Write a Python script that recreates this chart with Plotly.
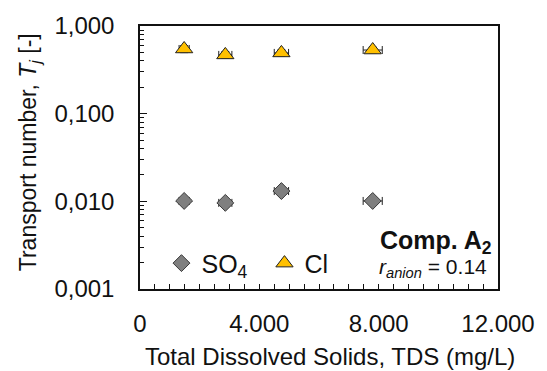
import plotly.graph_objects as go

# Transport numbers of sulfate and chloride vs. total dissolved solids
tds = [1480, 2860, 4740, 7800]          # mg/L
tds_err = [170, 220, 240, 320]          # mg/L
so4 = [0.0101, 0.0096, 0.0131, 0.0101]
cl = [0.547, 0.468, 0.493, 0.532]
cl_err = [0.05, 0.04, 0.04, 0.04]

y_tickvals = [0.001, 0.01, 0.1, 1]
y_ticktext = ["0,001", "0,010", "0,100", "1,000"]
x_tickvals = [0, 4000, 8000, 12000]
x_ticktext = ["0", "4.000", "8.000", "12.000"]

FONT = "Liberation Sans, Arial, Helvetica, sans-serif"

fig = go.Figure()
fig.add_trace(go.Scatter(
    x=tds, y=so4, mode="markers", name="SO<sub>4</sub>",
    marker=dict(symbol="diamond", size=13, color="#7f7f7f",
                line=dict(color="#3a3a3a", width=1)),
    error_x=dict(type="data", array=tds_err, color="#222", thickness=1, width=4),
))
fig.add_trace(go.Scatter(
    x=tds, y=cl, mode="markers", name="Cl",
    marker=dict(symbol="triangle-up", size=15, color="#ffc000",
                line=dict(color="#222", width=1)),
    error_x=dict(type="data", array=tds_err, color="#222", thickness=1, width=4),
    error_y=dict(type="data", array=cl_err, color="#222", thickness=1, width=4),
))

fig.update_layout(
    width=547, height=371,
    margin=dict(l=140, r=42, t=23, b=82),
    paper_bgcolor="white", plot_bgcolor="white",
    font=dict(family=FONT, size=24, color="#111"),
    showlegend=True,
    legend=dict(orientation="h", x=0.06, y=0.01, xanchor="left", yanchor="bottom",
                bgcolor="rgba(0,0,0,0)", font=dict(size=25), itemwidth=30,
                entrywidth=58, entrywidthmode="pixels", tracegroupgap=0),
)

fig.update_xaxes(
    range=[0, 12000], tickmode="array", tickvals=x_tickvals, ticktext=x_ticktext,
    ticks="inside", ticklen=5, tickcolor="#111", tickwidth=1,
    minor=dict(ticks="inside", ticklen=5, dtick=500, tickcolor="#111", showgrid=False),
    showline=True, linecolor="#111", linewidth=1.5, mirror=True,
    showgrid=False, zeroline=False, ticklabelstandoff=12,
)
fig.update_yaxes(
    type="log", range=[-3, 0], tickmode="array", tickvals=y_tickvals, ticktext=y_ticktext,
    ticks="inside", ticklen=7, tickcolor="#111", tickwidth=1,
    minor=dict(ticks="inside", ticklen=4, dtick="D1", tickcolor="#111", showgrid=False),
    showline=True, linecolor="#111", linewidth=1.5, mirror=True,
    showgrid=False, zeroline=False, ticklabelstandoff=19,
)

fig.add_annotation(
    text="Total Dissolved Solids, TDS (mg/L)", xref="paper", yref="paper",
    x=0.53, y=-0.255, xanchor="center", yanchor="middle", showarrow=False,
    font=dict(size=24),
)
fig.add_annotation(
    text="Transport number, <i>T<sub>j</sub></i> [-]", xref="paper", yref="paper",
    x=-0.31, y=0.52, xanchor="center", yanchor="middle", showarrow=False,
    textangle=-90, font=dict(size=23),
)
fig.add_annotation(
    text="<b>Comp. A<sub>2</sub></b>", xref="paper", yref="paper",
    x=0.99, y=0.18, xanchor="right", yanchor="middle", showarrow=False,
    font=dict(size=25),
)
fig.add_annotation(
    text="<i>r</i><sub><i>anion</i></sub> = 0.14", xref="paper", yref="paper",
    x=0.975, y=0.08, xanchor="right", yanchor="middle", showarrow=False,
    font=dict(size=21),
)

fig.write_html("out.html")
